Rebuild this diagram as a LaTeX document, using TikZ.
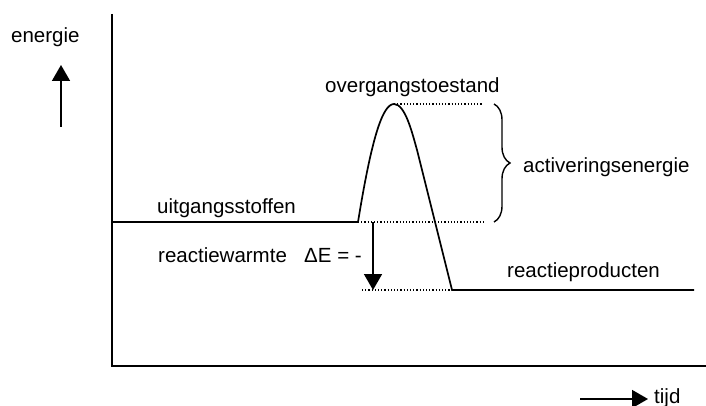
\documentclass[tikz,border=0pt]{standalone}
\usepackage{fontspec}
\setmainfont{Liberation Sans}
\usetikzlibrary{arrows.meta,decorations.pathreplacing}
\begin{document}
\begin{tikzpicture}[x=1pt,y=-1pt,
  lbl/.style={anchor=base west,inner sep=0pt,font=\fontsize{20.5}{24}\selectfont},
  axis/.style={line width=1.3pt},
  curve/.style={line width=1.7pt},
  dots/.style={line width=1.2pt,dotted},
  bigarrow/.style={line width=1.7pt,-{Triangle[length=16pt,width=18pt]}}]
\useasboundingbox (0,0) rectangle (706,406);
% axes
\coordinate (ytop) at (112,14);
\coordinate (orig) at (112,366);
\coordinate (xend) at (706,366);
\draw[axis] (ytop) -- (orig) -- (xend);
% energy arrow and label
\node[lbl] (energie) at (11,43) {energie};
\coordinate (ea0) at (61,127);
\coordinate (ea1) at (61,65);
\draw[bigarrow] (ea0) -- (ea1);
% time arrow and label
\coordinate (ta0) at (580,399);
\coordinate (ta1) at (648,399);
\draw[bigarrow] (ta0) -- (ta1);
\node[lbl] (tijd) at (654,403) {tijd};
% energy profile
\coordinate (r0) at (112,222);
\coordinate (r1) at (358,222);
\coordinate (peak) at (394,104);
\coordinate (mid) at (417,150);
\coordinate (p0) at (452,290);
\coordinate (p1) at (694,290);
\draw[curve] (r0) -- (r1) .. controls (371,142) and (382,104) .. (peak)
  .. controls (405,104) and (412,132) .. (mid) -- (p0) -- (p1);
% dotted guides
\coordinate (dt1) at (483,104);
\coordinate (db1) at (483,222);
\coordinate (dp0) at (362,290);
\draw[dots] (peak) -- (dt1);
\draw[dots] (r1) -- (db1);
\draw[dots] (dp0) -- (p0);
% brace
\coordinate (b0) at (494,104);
\coordinate (b1) at (494,222);
\draw[line width=1.4pt,decorate,decoration={brace,amplitude=16pt}] (b0) -- (b1);
% reaction heat arrow
\coordinate (h0) at (373,222);
\coordinate (h1) at (373,290);
\draw[bigarrow] (h0) -- (h1);
% labels
\node[lbl] (overgang) at (325,93) {overgangstoestand};
\node[lbl] (uitgang) at (157,213) {uitgangsstoffen};
\node[lbl] (activ) at (523,172) {activeringsenergie};
\node[lbl] (warmte) at (158,262) {reactiewarmte};
\node[lbl] (deltaE) at (304,262) {ΔE = -};
\node[lbl] (product) at (507,277) {reactieproducten};
\end{tikzpicture}
\end{document}
